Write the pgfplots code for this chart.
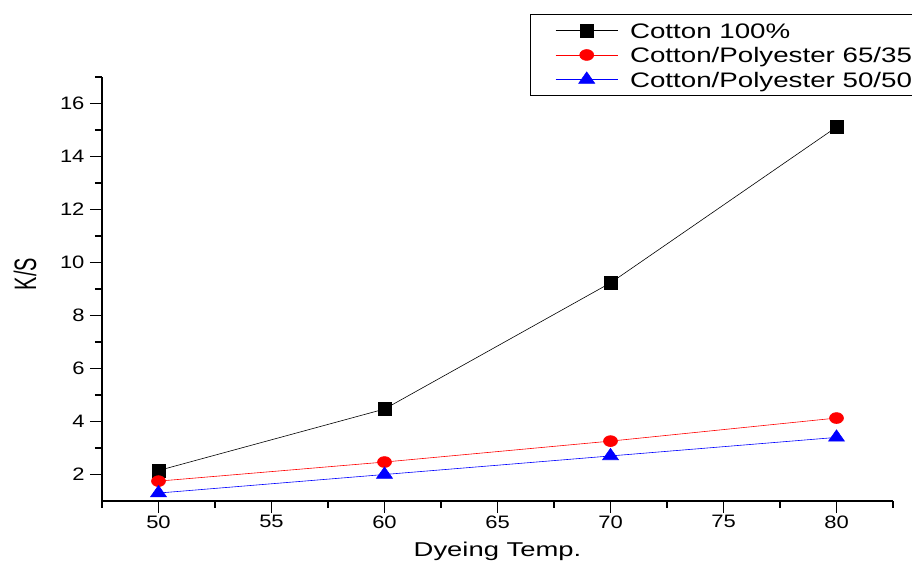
\documentclass[border=0pt]{standalone}
\usepackage{pgfplots}
\pgfplotsset{compat=1.18}
\usepackage{fontspec}
\setmainfont{Liberation Sans}
% the reference text is drawn wide
\newfontfamily\tickfont[FakeStretch=1.22]{Liberation Sans}
\newfontfamily\labelfont[FakeStretch=1.37]{Liberation Sans}
\newfontfamily\legfont[FakeStretch=1.32]{Liberation Sans}

\begin{document}
\begin{tikzpicture}
\path[use as bounding box] (-102pt,-63pt) rectangle (810pt,501pt);
\begin{axis}[
    at={(0pt,0pt)}, anchor=south west,
    scale only axis,
    width=791pt, height=424pt,
    xmin=47.5, xmax=82.5, ymin=1, ymax=17,
    axis x line*=bottom, axis y line*=left,
    axis line style={line width=1.3pt, -},
    xtick={50,55,...,80}, ytick={2,4,...,16},
    minor x tick num=1, minor y tick num=1,
    tick align=outside,
    major tick length=12pt, minor tick length=7pt,
    every tick/.style={line width=1.3pt, black},
    extra x ticks={47.5,82.5}, extra x tick labels={},
    extra x tick style={major tick length=7pt},
    extra y ticks={17}, extra y tick labels={},
    extra y tick style={major tick length=7pt},
    /pgf/number format/assume math mode=true,
    tick label style={font=\tickfont\fontsize{18pt}{20pt}\selectfont},
    xticklabel style={yshift=1pt},
    yticklabel style={xshift=-2pt},
    xlabel={Dyeing Temp.},
    ylabel={K/S},
    xlabel style={at={(axis description cs:0.5,0)}, anchor=base,
        yshift=-56pt, font=\labelfont\fontsize{20pt}{22pt}\selectfont},
    ylabel style={at={(axis description cs:-0.0973,0.535)}, anchor=center,
        yscale=1.55, font=\fontsize{20pt}{22pt}\selectfont},
    legend cell align=left,
    legend style={at={(0.541,1.1486)}, anchor=north west,
        draw=black, line width=1pt,
        font=\legfont\fontsize{21pt}{24pt}\selectfont,
        inner xsep=25pt, inner ysep=5pt,
        row sep=2.5pt,
        nodes={inner xsep=4pt, inner ysep=0pt, text height=19pt, text depth=3pt}},
    legend image code/.code={
        \draw[mark repeat=2,mark phase=2] plot coordinates {(0pt,0pt) (31pt,0pt) (62pt,0pt)};
        \path (70pt,0pt);
    },
]
\addplot[black, line width=0.6pt, mark=square*, mark size=6.5pt, mark options={solid, fill=black}]
    coordinates {(50,2.15) (60,4.47) (70,9.23) (80,15.11)};
\addlegendentry{Cotton 100\%}
\addplot[red, line width=0.6pt, mark=*, mark size=7pt, mark options={solid, fill=red, yscale=0.78}]
    coordinates {(50,1.75) (60,2.47) (70,3.26) (80,4.13)};
\addlegendentry{Cotton/Polyester 65/35}
\addplot[blue, line width=0.6pt, mark=triangle*, mark size=9.2pt, mark options={solid, fill=blue, yscale=0.82}]
    coordinates {(50,1.3) (60,2.0) (70,2.7) (80,3.4)};
\addlegendentry{Cotton/Polyester 50/50}
\end{axis}
\end{tikzpicture}
\end{document}
